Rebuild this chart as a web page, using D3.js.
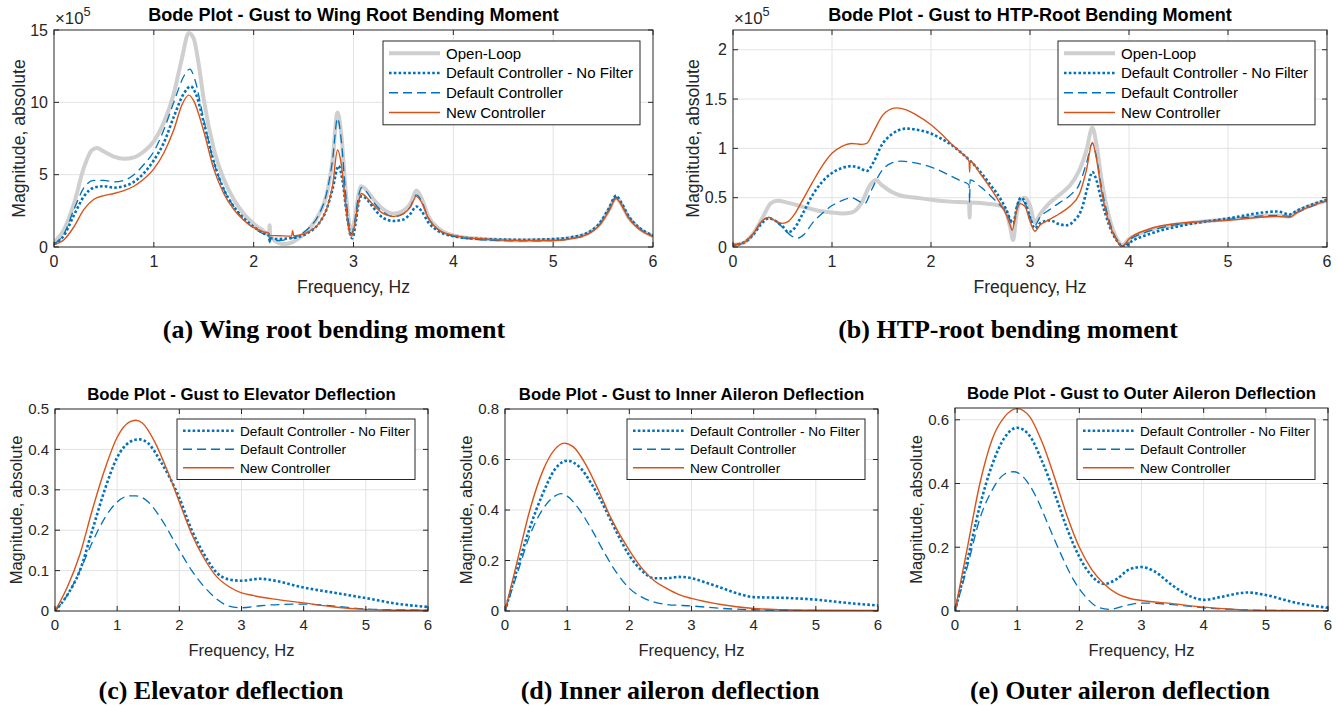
<!DOCTYPE html>
<html>
<head>
<meta charset="utf-8">
<script src="https://cdn.jsdelivr.net/npm/d3@7"></script>
<style>
  body { margin: 0; background: #fff; }
  svg { display: block; }
</style>
</head>
<body>
<div id="chart"></div>
<script>
// ---- data ([frequency Hz, magnitude]) ----
const freqTicks = [0, 1, 2, 3, 4, 5, 6]
const seriesNames = ['Open-Loop', 'Default Controller - No Filter', 'Default Controller', 'New Controller']

// (a) wing root bending moment, x 1e5
const wrbmTicks = [0, 5, 10, 15]
const wrbmOpenLoop = [[0,0.3],[0.1,1.2],[0.2,3.0],[0.3,5.5],[0.38,6.7],[0.43,6.85],[0.5,6.6],[0.6,6.25],[0.7,6.1],[0.8,6.2],[0.9,6.6],[1.0,7.3],[1.1,8.6],[1.2,10.6],[1.28,13],[1.35,14.8],[1.4,14.4],[1.45,12.6],[1.5,10.2],[1.6,6.8],[1.7,4.7],[1.8,3.3],[1.9,2.3],[2.0,1.6],[2.1,1.1],[2.155,0.85],[2.16,1.5],[2.165,0.8],[2.2,0.5],[2.3,0.2],[2.38,0.3],[2.45,0.6],[2.55,1.2],[2.65,2.2],[2.73,3.6],[2.79,6],[2.84,9.3],[2.88,7.6],[2.92,4],[2.96,1.5],[2.98,1.0],[3.01,1.8],[3.05,3.6],[3.08,4.2],[3.12,4.0],[3.2,3.3],[3.3,2.6],[3.4,2.3],[3.5,2.5],[3.57,3.0],[3.63,3.9],[3.68,3.4],[3.75,2.1],[3.85,1.3],[4.0,0.8],[4.3,0.55],[4.7,0.45],[5.0,0.5],[5.2,0.65],[5.35,0.95],[5.47,1.6],[5.56,2.6],[5.63,3.4],[5.68,3.0],[5.75,2.1],[5.85,1.35],[6.0,0.75]]
const wrbmNoFilter = [[0,0.2],[0.1,0.8],[0.2,2.2],[0.3,3.5],[0.4,4.1],[0.5,4.2],[0.6,4.1],[0.7,4.2],[0.8,4.5],[0.9,5.1],[1.0,6.0],[1.1,7.2],[1.2,9.0],[1.3,10.6],[1.37,11.1],[1.42,10.6],[1.5,8.6],[1.6,5.9],[1.7,4.0],[1.8,2.8],[1.9,2.0],[2.0,1.4],[2.1,0.95],[2.155,0.75],[2.16,0.4],[2.17,0.6],[2.25,0.55],[2.35,0.6],[2.45,0.7],[2.55,1.0],[2.65,1.6],[2.73,2.6],[2.79,4],[2.85,5.6],[2.89,4.6],[2.93,2.4],[2.97,0.8],[2.99,0.6],[3.02,1.6],[3.05,3.0],[3.08,3.5],[3.12,3.4],[3.2,2.7],[3.3,2.0],[3.4,1.8],[3.5,1.9],[3.57,2.3],[3.63,2.8],[3.68,2.5],[3.75,1.7],[3.85,1.1],[4.0,0.75],[4.3,0.55],[4.7,0.5],[5.0,0.55],[5.2,0.7],[5.35,1.0],[5.47,1.7],[5.56,2.7],[5.63,3.55],[5.68,3.1],[5.75,2.2],[5.85,1.4],[6.0,0.8]]
const wrbmDefault = [[0,0.2],[0.1,0.9],[0.2,2.6],[0.3,4.1],[0.4,4.6],[0.5,4.6],[0.6,4.5],[0.7,4.6],[0.8,5.0],[0.9,5.7],[1.0,6.6],[1.1,8.1],[1.2,10.0],[1.3,11.8],[1.36,12.3],[1.41,11.6],[1.5,8.8],[1.6,5.9],[1.7,4.0],[1.8,2.8],[1.9,1.9],[2.0,1.3],[2.1,0.9],[2.155,0.7],[2.16,0.3],[2.17,0.5],[2.25,0.45],[2.35,0.55],[2.45,0.8],[2.55,1.3],[2.65,2.2],[2.73,3.7],[2.79,6],[2.84,8.9],[2.88,7.2],[2.92,3.8],[2.96,1.3],[2.98,0.9],[3.01,1.7],[3.05,3.5],[3.08,4.1],[3.12,3.9],[3.2,3.1],[3.3,2.4],[3.4,2.1],[3.5,2.3],[3.57,2.8],[3.63,3.6],[3.68,3.2],[3.75,2.0],[3.85,1.2],[4.0,0.75],[4.3,0.5],[4.7,0.42],[5.0,0.45],[5.2,0.6],[5.35,0.9],[5.47,1.6],[5.56,2.6],[5.63,3.45],[5.68,3.0],[5.75,2.1],[5.85,1.35],[6.0,0.75]]
const wrbmNew = [[0,0.15],[0.1,0.5],[0.2,1.4],[0.3,2.6],[0.4,3.3],[0.5,3.55],[0.6,3.7],[0.7,3.9],[0.8,4.2],[0.9,4.7],[1.0,5.4],[1.1,6.5],[1.2,8.1],[1.28,9.8],[1.35,10.5],[1.4,10.1],[1.5,8.0],[1.6,5.4],[1.7,3.7],[1.8,2.6],[1.9,1.85],[2.0,1.35],[2.1,1.05],[2.155,0.95],[2.16,0.8],[2.25,0.78],[2.38,0.75],[2.39,1.15],[2.4,0.78],[2.45,0.82],[2.55,1.05],[2.65,1.6],[2.73,2.6],[2.79,4.2],[2.84,6.7],[2.88,5.6],[2.92,3.0],[2.96,1.0],[2.98,0.75],[3.01,1.5],[3.05,3.1],[3.08,3.7],[3.12,3.5],[3.2,2.9],[3.3,2.3],[3.4,2.1],[3.5,2.3],[3.57,2.75],[3.63,3.5],[3.68,3.1],[3.75,2.0],[3.85,1.2],[4.0,0.8],[4.3,0.55],[4.7,0.45],[5.0,0.45],[5.2,0.6],[5.35,0.9],[5.47,1.55],[5.56,2.5],[5.63,3.35],[5.68,2.95],[5.75,2.05],[5.85,1.3],[6.0,0.72]]

// (b) HTP-root bending moment, x 1e5
const htpTicks = [0, 0.5, 1, 1.5, 2]
const htpOpenLoop = [[0,0.02],[0.1,0.04],[0.2,0.13],[0.3,0.3],[0.38,0.44],[0.45,0.47],[0.55,0.45],[0.7,0.41],[0.85,0.37],[1.0,0.35],[1.1,0.34],[1.2,0.35],[1.3,0.45],[1.38,0.62],[1.44,0.68],[1.5,0.63],[1.6,0.56],[1.7,0.52],[1.85,0.5],[2.0,0.48],[2.2,0.46],[2.385,0.45],[2.39,0.3],[2.395,0.45],[2.55,0.44],[2.7,0.42],[2.76,0.35],[2.8,0.2],[2.83,0.07],[2.86,0.3],[2.9,0.47],[2.95,0.5],[3.0,0.42],[3.05,0.25],[3.1,0.33],[3.2,0.45],[3.3,0.53],[3.4,0.62],[3.5,0.78],[3.57,0.98],[3.63,1.21],[3.67,1.05],[3.72,0.7],[3.8,0.3],[3.88,0.08],[3.93,0.02],[4.0,0.08],[4.2,0.17],[4.5,0.23],[5.0,0.28],[5.5,0.32],[5.62,0.31],[5.7,0.36],[6.0,0.47]]
const htpNoFilter = [[0,0.02],[0.1,0.04],[0.2,0.12],[0.3,0.25],[0.36,0.29],[0.42,0.27],[0.5,0.21],[0.56,0.15],[0.62,0.19],[0.7,0.33],[0.8,0.52],[0.9,0.66],[1.0,0.75],[1.1,0.8],[1.2,0.82],[1.28,0.8],[1.35,0.77],[1.42,0.86],[1.5,1.03],[1.6,1.14],[1.75,1.2],[1.85,1.19],[2.0,1.15],[2.1,1.1],[2.2,1.04],[2.3,0.96],[2.4,0.87],[2.5,0.76],[2.6,0.63],[2.7,0.49],[2.76,0.38],[2.8,0.28],[2.83,0.24],[2.87,0.42],[2.91,0.5],[2.96,0.43],[3.0,0.3],[3.05,0.19],[3.1,0.24],[3.2,0.27],[3.3,0.23],[3.37,0.22],[3.45,0.27],[3.52,0.38],[3.58,0.6],[3.63,0.76],[3.67,0.68],[3.72,0.48],[3.8,0.22],[3.88,0.06],[3.95,0.0],[4.0,0.04],[4.2,0.13],[4.5,0.21],[5.0,0.29],[5.5,0.36],[5.62,0.33],[5.7,0.37],[6.0,0.48]]
const htpDefault = [[0,0.02],[0.1,0.04],[0.2,0.13],[0.3,0.27],[0.36,0.3],[0.42,0.27],[0.5,0.2],[0.58,0.12],[0.65,0.09],[0.72,0.13],[0.8,0.24],[0.9,0.34],[1.0,0.42],[1.1,0.47],[1.2,0.5],[1.28,0.46],[1.33,0.44],[1.4,0.58],[1.5,0.77],[1.6,0.85],[1.7,0.87],[1.8,0.86],[1.9,0.84],[2.0,0.81],[2.1,0.77],[2.2,0.72],[2.3,0.67],[2.385,0.63],[2.39,0.45],[2.395,0.68],[2.5,0.61],[2.6,0.52],[2.7,0.42],[2.77,0.34],[2.83,0.22],[2.87,0.42],[2.91,0.48],[2.96,0.42],[3.0,0.3],[3.05,0.22],[3.1,0.3],[3.2,0.38],[3.3,0.45],[3.4,0.52],[3.5,0.64],[3.57,0.85],[3.63,1.05],[3.67,0.92],[3.72,0.62],[3.8,0.27],[3.88,0.07],[3.93,0.01],[4.0,0.07],[4.2,0.16],[4.5,0.23],[5.0,0.28],[5.5,0.32],[5.62,0.31],[5.7,0.35],[6.0,0.47]]
const htpNew = [[0,0.02],[0.1,0.04],[0.2,0.13],[0.3,0.27],[0.36,0.3],[0.42,0.27],[0.5,0.24],[0.56,0.26],[0.62,0.33],[0.7,0.47],[0.8,0.65],[0.9,0.82],[1.0,0.95],[1.1,1.02],[1.2,1.05],[1.3,1.04],[1.35,1.05],[1.42,1.17],[1.5,1.32],[1.6,1.4],[1.65,1.41],[1.75,1.39],[1.85,1.34],[2.0,1.24],[2.1,1.15],[2.2,1.05],[2.3,0.96],[2.385,0.87],[2.39,0.76],[2.395,0.87],[2.5,0.74],[2.6,0.6],[2.7,0.44],[2.76,0.33],[2.8,0.22],[2.82,0.17],[2.86,0.35],[2.9,0.44],[2.95,0.41],[3.0,0.26],[3.05,0.16],[3.1,0.22],[3.2,0.28],[3.3,0.34],[3.4,0.41],[3.5,0.54],[3.57,0.78],[3.63,1.06],[3.67,0.9],[3.72,0.58],[3.8,0.24],[3.88,0.06],[3.93,0.0],[4.0,0.08],[4.2,0.18],[4.5,0.24],[5.0,0.27],[5.5,0.31],[5.62,0.3],[5.7,0.35],[6.0,0.47]]

// (c) elevator deflection
const elevTicks = [0, 0.1, 0.2, 0.3, 0.4, 0.5]
const elevNoFilter = [[0,0],[0.2,0.04],[0.4,0.1],[0.6,0.2],[0.8,0.3],[1.0,0.38],[1.2,0.418],[1.35,0.425],[1.5,0.415],[1.7,0.37],[2.0,0.28],[2.2,0.2],[2.4,0.14],[2.6,0.095],[2.8,0.078],[3.0,0.075],[3.3,0.08],[3.5,0.076],[4.0,0.058],[4.5,0.045],[5.0,0.032],[5.5,0.018],[6.0,0.01]]
const elevDefault = [[0,0],[0.2,0.04],[0.4,0.1],[0.6,0.17],[0.8,0.23],[1.0,0.27],[1.2,0.285],[1.3,0.285],[1.5,0.27],[1.7,0.23],[2.0,0.15],[2.2,0.1],[2.4,0.06],[2.6,0.03],[2.8,0.012],[3.0,0.008],[3.3,0.013],[3.6,0.016],[4.0,0.017],[4.5,0.012],[5.0,0.005],[5.5,0.003],[6.0,0.002]]
const elevNew = [[0,0],[0.2,0.06],[0.4,0.14],[0.6,0.25],[0.8,0.35],[1.0,0.43],[1.2,0.468],[1.3,0.472],[1.4,0.466],[1.6,0.42],[1.8,0.35],[2.0,0.27],[2.2,0.19],[2.4,0.13],[2.6,0.085],[2.8,0.06],[3.0,0.045],[3.2,0.038],[3.5,0.03],[4.0,0.02],[4.5,0.01],[5.0,0.004],[5.5,0.002],[6.0,0.002]]

// (d) inner aileron deflection
const innerTicks = [0, 0.2, 0.4, 0.6, 0.8]
const innerNoFilter = [[0,0],[0.2,0.17],[0.4,0.33],[0.6,0.46],[0.8,0.56],[1.0,0.595],[1.2,0.57],[1.4,0.5],[1.6,0.41],[1.8,0.31],[2.0,0.22],[2.2,0.16],[2.4,0.13],[2.6,0.13],[2.8,0.135],[3.0,0.13],[3.2,0.115],[3.5,0.09],[3.8,0.065],[4.0,0.055],[4.5,0.052],[5.0,0.045],[5.5,0.032],[6.0,0.022]]
const innerDefault = [[0,0],[0.2,0.15],[0.4,0.3],[0.6,0.4],[0.8,0.455],[0.9,0.465],[1.0,0.455],[1.2,0.4],[1.4,0.32],[1.6,0.23],[1.8,0.15],[2.0,0.09],[2.2,0.055],[2.4,0.035],[2.6,0.026],[3.0,0.02],[3.5,0.01],[4.0,0.005],[5.0,0.002],[6.0,0.001]]
const innerNew = [[0,0],[0.2,0.2],[0.4,0.4],[0.6,0.55],[0.8,0.64],[0.95,0.665],[1.1,0.65],[1.3,0.58],[1.5,0.48],[1.7,0.37],[2.0,0.24],[2.2,0.17],[2.4,0.12],[2.6,0.09],[2.8,0.065],[3.0,0.05],[3.5,0.025],[4.0,0.01],[4.5,0.005],[5.0,0.003],[6.0,0.002]]

// (e) outer aileron deflection
const outerTicks = [0, 0.2, 0.4, 0.6]
const outerNoFilter = [[0,0],[0.2,0.16],[0.4,0.33],[0.6,0.46],[0.8,0.545],[1.0,0.575],[1.2,0.55],[1.4,0.47],[1.6,0.37],[1.8,0.26],[2.0,0.17],[2.2,0.11],[2.4,0.085],[2.6,0.1],[2.8,0.13],[3.0,0.138],[3.2,0.125],[3.5,0.08],[3.8,0.045],[4.0,0.035],[4.3,0.045],[4.7,0.058],[5.0,0.05],[5.5,0.025],[6.0,0.01]]
const outerDefault = [[0,0],[0.2,0.14],[0.4,0.29],[0.6,0.38],[0.8,0.43],[0.95,0.437],[1.1,0.42],[1.3,0.36],[1.5,0.27],[1.7,0.18],[1.9,0.1],[2.1,0.045],[2.3,0.012],[2.5,0.005],[2.7,0.015],[3.0,0.025],[3.5,0.02],[4.0,0.01],[4.5,0.005],[5.0,0.002],[6.0,0.001]]
const outerNew = [[0,0],[0.2,0.2],[0.4,0.4],[0.6,0.54],[0.8,0.61],[1.0,0.635],[1.2,0.61],[1.4,0.53],[1.6,0.42],[1.8,0.3],[2.0,0.2],[2.2,0.13],[2.4,0.085],[2.6,0.055],[2.8,0.04],[3.0,0.033],[3.5,0.023],[4.0,0.012],[4.5,0.005],[5.0,0.002],[6.0,0.001]]

// ---- styles ----
const AX = '#262626'
const GRID = '#e3e3e3'
const STYLES = {
  'Open-Loop': { stroke: '#cfcfcf', width: 4, dash: null },
  'Default Controller - No Filter': { stroke: '#0072BD', width: 2.6, dash: '2.6,2.2' },
  'Default Controller': { stroke: '#0072BD', width: 1.3, dash: '9,5' },
  'New Controller': { stroke: '#D95319', width: 1.4, dash: null },
}

const svg = d3.select('#chart').append('svg')
  .attr('xmlns', 'http://www.w3.org/2000/svg')
  .attr('width', 1338).attr('height', 706)
  .style('background', '#fff')
  .style('font-family', '"Liberation Sans", Arial, Helvetica, sans-serif')

let clipId = 0

function drawPanel(p) {
  const x = d3.scaleLinear().domain([0, 6]).range([p.left, p.right])
  const y = d3.scaleLinear().domain([0, p.yMax]).range([p.bottom, p.top])
  const g = svg.append('g')
  const fs = p.fontSize

  // grid
  g.append('g').selectAll('line').data(freqTicks.slice(1, -1)).join('line')
    .attr('x1', (d) => x(d)).attr('x2', (d) => x(d)).attr('y1', p.top).attr('y2', p.bottom)
    .attr('stroke', GRID).attr('stroke-width', 1)
  g.append('g').selectAll('line').data(p.yTicks.filter((d) => d > 0 && y(d) > p.top + 1)).join('line')
    .attr('x1', p.left).attr('x2', p.right).attr('y1', (d) => y(d)).attr('y2', (d) => y(d))
    .attr('stroke', GRID).attr('stroke-width', 1)

  // curves
  const id = 'clip' + (clipId++)
  svg.append('clipPath').attr('id', id).append('rect')
    .attr('x', p.left).attr('y', p.top - 2).attr('width', p.right - p.left).attr('height', p.bottom - p.top + 2)
  const line = d3.line().x((d) => x(d[0])).y((d) => y(d[1])).curve(d3.curveMonotoneX)
  const curves = g.append('g').attr('clip-path', `url(#${id})`)
  p.series.forEach((s) => {
    const st = STYLES[s.name]
    curves.append('path').datum(s.data).attr('d', line).attr('fill', 'none')
      .attr('stroke', st.stroke).attr('stroke-width', st.width)
      .attr('stroke-dasharray', st.dash).attr('stroke-linejoin', 'round')
  })

  // axes box with inward ticks on every side
  g.append('rect').attr('x', p.left).attr('y', p.top).attr('width', p.right - p.left).attr('height', p.bottom - p.top)
    .attr('fill', 'none').attr('stroke', AX).attr('stroke-width', 1)
  const tl = 5
  const xt = g.append('g').attr('stroke', AX).attr('stroke-width', 1)
  freqTicks.forEach((t) => {
    xt.append('line').attr('x1', x(t)).attr('x2', x(t)).attr('y1', p.bottom).attr('y2', p.bottom - tl)
    xt.append('line').attr('x1', x(t)).attr('x2', x(t)).attr('y1', p.top).attr('y2', p.top + tl)
  })
  p.yTicks.forEach((t) => {
    xt.append('line').attr('x1', p.left).attr('x2', p.left + tl).attr('y1', y(t)).attr('y2', y(t))
    xt.append('line').attr('x1', p.right).attr('x2', p.right - tl).attr('y1', y(t)).attr('y2', y(t))
  })

  // tick labels
  g.append('g').selectAll('text').data(freqTicks).join('text')
    .attr('x', (d) => x(d)).attr('y', p.bottom + fs + 4).attr('text-anchor', 'middle')
    .attr('font-size', fs).attr('fill', AX).text((d) => d)
  g.append('g').selectAll('text').data(p.yTicks).join('text')
    .attr('x', p.left - 6).attr('y', (d) => y(d)).attr('dy', '0.35em').attr('text-anchor', 'end')
    .attr('font-size', fs).attr('fill', AX).text((d) => d)

  // axis labels
  g.append('text').attr('x', (p.left + p.right) / 2).attr('y', p.xLabelY).attr('text-anchor', 'middle')
    .attr('font-size', fs * 1.1).attr('fill', AX).text('Frequency, Hz')
  g.append('text').attr('transform', `translate(${p.yLabelX},${(p.top + p.bottom) / 2}) rotate(-90)`)
    .attr('text-anchor', 'middle').attr('dy', '0.35em')
    .attr('font-size', fs * 1.1).attr('fill', AX).text('Magnitude, absolute')

  // exponent
  if (p.exponent) {
    const e = g.append('text').attr('x', p.left + 1).attr('y', p.top - 6).attr('font-size', fs * 1.05).attr('fill', AX)
    e.append('tspan').text('\u00d710')
    e.append('tspan').attr('dy', -8).attr('font-size', fs * 0.8).text(p.exponent)
  }

  // title
  g.append('text').attr('x', (p.left + p.right) / 2).attr('y', p.top - 9).attr('text-anchor', 'middle')
    .attr('font-size', fs * p.titleScale).attr('font-weight', 'bold').attr('fill', '#000').text(p.title)

  // legend
  const lg = p.legend
  const names = p.series.map((s) => s.name)
  g.append('rect').attr('x', lg.x).attr('y', lg.y).attr('width', lg.w).attr('height', lg.rowH * names.length + lg.pad)
    .attr('fill', '#fff').attr('stroke', AX).attr('stroke-width', 1)
  names.forEach((n, i) => {
    const st = STYLES[n]
    const cy = lg.y + lg.pad / 2 + lg.rowH * (i + 0.5)
    g.append('line').attr('x1', lg.x + 6).attr('x2', lg.x + 57).attr('y1', cy).attr('y2', cy)
      .attr('stroke', st.stroke).attr('stroke-width', st.width).attr('stroke-dasharray', st.dash)
    g.append('text').attr('x', lg.x + 63).attr('y', cy).attr('dy', '0.35em')
      .attr('font-size', fs * lg.fontScale).attr('fill', '#000').text(n)
  })

  // subfigure caption
  svg.append('text').attr('x', p.captionX).attr('y', p.captionY).attr('text-anchor', 'middle')
    .attr('font-family', '"Liberation Serif", "Times New Roman", serif')
    .attr('font-size', 26).attr('font-weight', 'bold').attr('fill', '#000').text(p.caption)
}

const mk = (names, arrays) => names.map((n, i) => ({ name: n, data: arrays[i] }))

drawPanel({
  left: 54, right: 653, top: 30, bottom: 247, yMax: 15, yTicks: wrbmTicks, fontSize: 16, titleScale: 1.13,
  xLabelY: 293, yLabelX: 19, exponent: '5',
  title: 'Bode Plot - Gust to Wing Root Bending Moment',
  series: mk(seriesNames, [wrbmOpenLoop, wrbmNoFilter, wrbmDefault, wrbmNew]),
  legend: { x: 383, y: 41, w: 257, rowH: 19.7, pad: 5, fontScale: 0.94 },
  caption: '(a) Wing root bending moment', captionX: 334, captionY: 338,
})
drawPanel({
  left: 733, right: 1327, top: 30, bottom: 247, yMax: 2.2, yTicks: htpTicks, fontSize: 16, titleScale: 1.13,
  xLabelY: 293, yLabelX: 693, exponent: '5',
  title: 'Bode Plot - Gust to HTP-Root Bending Moment',
  series: mk(seriesNames, [htpOpenLoop, htpNoFilter, htpDefault, htpNew]),
  legend: { x: 1058, y: 41, w: 257, rowH: 19.7, pad: 5, fontScale: 0.94 },
  caption: '(b) HTP-root bending moment', captionX: 1008, captionY: 338,
})
const ctrlNames = seriesNames.slice(1)
drawPanel({
  left: 55, right: 428, top: 409, bottom: 611, yMax: 0.5, yTicks: elevTicks, fontSize: 15, titleScale: 1.12,
  xLabelY: 656, yLabelX: 16,
  title: 'Bode Plot - Gust to Elevator Deflection',
  series: mk(ctrlNames, [elevNoFilter, elevDefault, elevNew]),
  legend: { x: 177, y: 419, w: 238, rowH: 18.5, pad: 5, fontScale: 0.91 },
  caption: '(c) Elevator deflection', captionX: 221, captionY: 699,
})
drawPanel({
  left: 505, right: 878, top: 409, bottom: 611, yMax: 0.8, yTicks: innerTicks, fontSize: 15, titleScale: 1.12,
  xLabelY: 656, yLabelX: 466,
  title: 'Bode Plot - Gust to Inner Aileron Deflection',
  series: mk(ctrlNames, [innerNoFilter, innerDefault, innerNew]),
  legend: { x: 627, y: 419, w: 238, rowH: 18.5, pad: 5, fontScale: 0.91 },
  caption: '(d) Inner aileron deflection', captionX: 670, captionY: 699,
})
drawPanel({
  left: 955, right: 1328, top: 408, bottom: 611, yMax: 0.637, yTicks: outerTicks, fontSize: 15, titleScale: 1.12,
  xLabelY: 656, yLabelX: 916,
  title: 'Bode Plot - Gust to Outer Aileron Deflection',
  series: mk(ctrlNames, [outerNoFilter, outerDefault, outerNew]),
  legend: { x: 1077, y: 419, w: 238, rowH: 18.5, pad: 5, fontScale: 0.91 },
  caption: '(e) Outer aileron deflection', captionX: 1120, captionY: 699,
})
</script>
</body>
</html>
